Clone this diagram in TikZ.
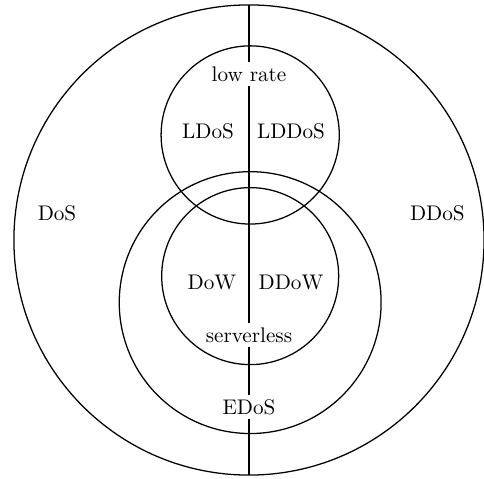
\documentclass[tikz,border=0pt]{standalone}
\usepackage{tikz}
\usetikzlibrary{positioning}

\begin{document}
\begin{tikzpicture}[
    set/.style={circle, draw, semithick, inner sep=0pt, outer sep=0pt},
    split/.style={line width=1pt},
    lbl/.style={fill=white, inner sep=2pt},
    tag/.style={inner sep=2pt}
]
\useasboundingbox (-4.136, -3.970) rectangle (3.904, 3.987);

% --- outer set: DoS / DDoS ---
\node[set, minimum size=7.81cm] (all) at (0, 0) {};

% --- low rate (top) ---
\node[set, minimum size=2.96cm] (low) at (0.02, 1.745) {};

% --- EDoS (bottom, larger) ---
\node[set, minimum size=4.35cm] (edos) at (0.02, -1.04) {};

% --- serverless (bottom, inner) ---
\node[set, minimum size=2.94cm] (srv) at (0.02, -0.60) {};

% --- single vs distributed split ---
\draw[split] (all.north) -- (all.south);

% --- labels ---
\node[tag] (dos)   at (-3.189, 0.449) {DoS};
\node[tag] (ddos)  at (3.13, 0.449)   {DDoS};
\node[tag] (ldos)  at (-0.681, 1.811) {LDoS};
\node[tag] (lddos) at (0.698, 1.811)  {LDDoS};
\node[tag] (dow)   at (-0.615, -0.698) {DoW};
\node[tag] (ddow)  at (0.698, -0.698) {DDoW};
\node[lbl] (lr)  at (0, 2.757)  {low rate};
\node[lbl] (sl)  at (0, -1.578) {serverless};
\node[lbl] (ed)  at (0, -2.774) {EDoS};

\end{tikzpicture}
\end{document}
